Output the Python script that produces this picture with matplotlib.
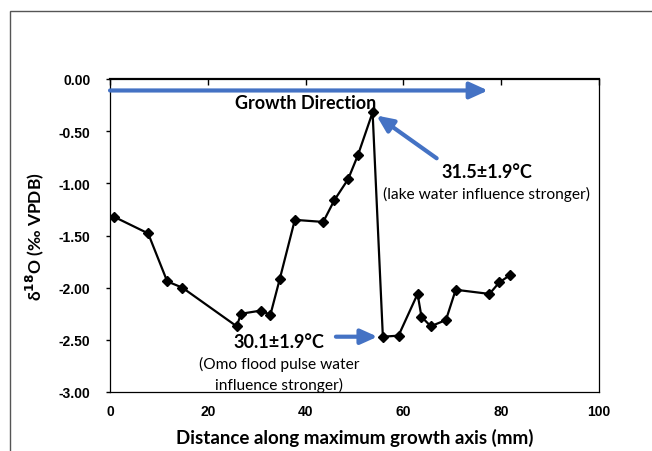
import matplotlib
matplotlib.use("Agg")
import matplotlib.pyplot as plt
from matplotlib.patches import Rectangle

plt.rcParams["font.family"] = ["Lato", "DejaVu Sans"]

# distance along growth axis (mm) and d18O (permil VPDB)
dist = [0.8, 7.8, 11.7, 14.8, 25.9, 26.8, 30.8, 32.8, 34.7, 37.8, 43.6, 45.9,
        48.7, 50.7, 53.7, 55.8, 59.0, 62.9, 63.7, 65.6, 68.7, 70.7, 77.6, 79.6, 81.8]
d18o = [-1.32, -1.48, -1.94, -2.00, -2.37, -2.25, -2.22, -2.26, -1.92, -1.35, -1.37, -1.16,
        -0.96, -0.73, -0.32, -2.47, -2.46, -2.06, -2.28, -2.37, -2.31, -2.02, -2.06, -1.95, -1.88]

xticks = [0, 20, 40, 60, 80, 100]
yticks = [0.0, -0.5, -1.0, -1.5, -2.0, -2.5, -3.0]

blue = "#4472C4"

fig = plt.figure(figsize=(6.52, 4.52), dpi=100)
ax = fig.add_axes([110 / 652, 1 - 393 / 452, 489 / 652, 313 / 452])

# outer frame of the original chart area
fig.patches.append(Rectangle((10 / 652, -0.1), 1.2, 1 - 12 / 452 + 0.1,
                             transform=fig.transFigure, fill=False,
                             edgecolor="#555555", linewidth=1.0))

ax.plot(dist, d18o, color="black", linewidth=1.6, marker="D", markersize=5,
        markerfacecolor="black", markeredgecolor="black")

ax.set_xlim(0, 100)
ax.set_ylim(-3.0, 0.0)
ax.set_xticks(xticks)
ax.set_yticks(yticks)
ax.set_xticklabels([str(v) for v in xticks], fontfamily="Liberation Sans",
                   fontweight="bold", fontsize=10)
ax.set_yticklabels(["%.2f" % v for v in yticks], fontfamily="Liberation Sans",
                   fontweight="bold", fontsize=10)
ax.tick_params(axis="x", top=True, bottom=False, direction="in", length=4,
               width=1, labelbottom=True, pad=9)
ax.tick_params(axis="y", left=True, direction="out", length=3, width=1, pad=11)
for s in ax.spines.values():
    s.set_linewidth(0.9)
ax.spines["top"].set_linewidth(1.6)

ax.set_xlabel("Distance along maximum growth axis (mm)", fontsize=13.5,
              fontweight="bold", labelpad=7)
ax.set_ylabel(r"δ$^{\mathbf{18}}$O (‰ VPDB)", fontsize=12.5, fontweight="bold",
              labelpad=9)

# growth direction arrow
ax.annotate("", xy=(77.3, -0.11), xytext=(0, -0.11),
            arrowprops=dict(arrowstyle="-|>,head_length=1.1,head_width=0.5",
                            color=blue, linewidth=3, shrinkA=0, shrinkB=0))
ax.text(40, -0.23, "Growth Direction", ha="center", va="center",
        fontsize=13, fontweight="bold")

# annotation for max
ax.annotate("", xy=(54.5, -0.35), xytext=(66.8, -0.76),
            arrowprops=dict(arrowstyle="-|>,head_length=1.0,head_width=0.45",
                            color=blue, linewidth=3, shrinkA=0, shrinkB=0))
ax.text(77.0, -0.89, "31.5±1.9°C", ha="center", va="center",
        fontsize=13, fontweight="bold")
ax.text(77.0, -1.10, "(lake water influence stronger)", ha="center",
        va="center", fontsize=11.2)

# annotation for min
ax.annotate("", xy=(54.7, -2.47), xytext=(46.2, -2.47),
            arrowprops=dict(arrowstyle="-|>,head_length=1.0,head_width=0.45",
                            color=blue, linewidth=3, shrinkA=0, shrinkB=0))
ax.text(34.6, -2.52, "30.1±1.9°C", ha="center", va="center",
        fontsize=13, fontweight="bold")
ax.text(34.6, -2.73, "(Omo flood pulse water", ha="center", va="center",
        fontsize=11.2)
ax.text(34.6, -2.93, "influence stronger)", ha="center", va="center",
        fontsize=11.2)

fig.savefig("out.png", dpi=100)
